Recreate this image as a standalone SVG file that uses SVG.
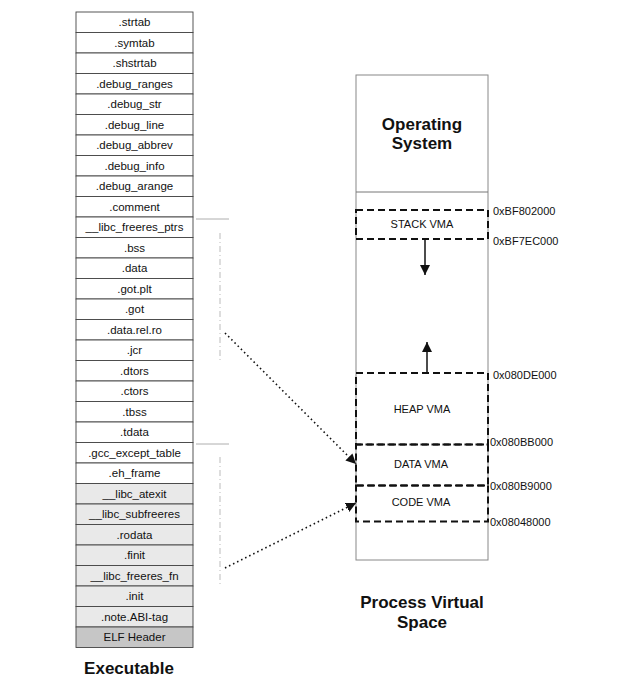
<svg xmlns="http://www.w3.org/2000/svg" width="623" height="683" viewBox="0 0 623 683">
<style>
.sec{fill:#fff;stroke:#444;stroke-width:0.9}
.shade{fill:#e9e9e9;stroke:#444;stroke-width:0.9}
.dark{fill:#c6c6c6;stroke:#444;stroke-width:0.9}
.st{font-family:"Liberation Sans",Arial,sans-serif;font-size:11.5px;fill:#111;text-anchor:middle}
.vma{fill:none;stroke:#111;stroke-width:2;stroke-dasharray:7,4}
.vt{font-family:"Liberation Sans",Arial,sans-serif;font-size:11px;fill:#111;text-anchor:middle}
.hex{font-family:"Liberation Sans",Arial,sans-serif;font-size:11px;fill:#111}
.big{font-family:"Liberation Sans",Arial,sans-serif;font-size:17px;font-weight:bold;fill:#111;text-anchor:middle}
.faint{stroke:#999;stroke-width:0.8;fill:none}
.faintd{stroke:#aaa;stroke-width:0.8;fill:none;stroke-dasharray:6,3,1,3}
.dot{stroke:#111;stroke-width:1.6;fill:none;stroke-dasharray:1.5,3}
.sol{stroke:#111;stroke-width:1.5;fill:none}
</style>
<defs>
<marker id="ah" viewBox="0 0 10 10" refX="10" refY="5" markerWidth="10" markerHeight="10" markerUnits="userSpaceOnUse" orient="auto">
<path d="M0,0 L10,5 L0,10 z" fill="#111"/>
</marker>
</defs>

<g id="executable">
<g id="sec-strtab"><rect class="sec" x="76" y="12" width="117" height="20.5"/><text class="st" x="134.5" y="26.2">.strtab</text></g>
<g id="sec-symtab"><rect class="sec" x="76" y="32.5" width="117" height="20.5"/><text class="st" x="134.5" y="46.7">.symtab</text></g>
<g id="sec-shstrtab"><rect class="sec" x="76" y="53" width="117" height="20.5"/><text class="st" x="134.5" y="67.2">.shstrtab</text></g>
<g id="sec-debug_ranges"><rect class="sec" x="76" y="73.5" width="117" height="20.5"/><text class="st" x="134.5" y="87.7">.debug_ranges</text></g>
<g id="sec-debug_str"><rect class="sec" x="76" y="94" width="117" height="20.5"/><text class="st" x="134.5" y="108.2">.debug_str</text></g>
<g id="sec-debug_line"><rect class="sec" x="76" y="114.5" width="117" height="20.5"/><text class="st" x="134.5" y="128.7">.debug_line</text></g>
<g id="sec-debug_abbrev"><rect class="sec" x="76" y="135" width="117" height="20.5"/><text class="st" x="134.5" y="149.2">.debug_abbrev</text></g>
<g id="sec-debug_info"><rect class="sec" x="76" y="155.5" width="117" height="20.5"/><text class="st" x="134.5" y="169.7">.debug_info</text></g>
<g id="sec-debug_arange"><rect class="sec" x="76" y="176" width="117" height="20.5"/><text class="st" x="134.5" y="190.2">.debug_arange</text></g>
<g id="sec-comment"><rect class="sec" x="76" y="196.5" width="117" height="20.5"/><text class="st" x="134.5" y="210.7">.comment</text></g>
<g id="sec-libc_freeres_ptrs"><rect class="sec" x="76" y="217" width="117" height="20.5"/><text class="st" x="134.5" y="231.2">__libc_freeres_ptrs</text></g>
<g id="sec-bss"><rect class="sec" x="76" y="237.5" width="117" height="20.5"/><text class="st" x="134.5" y="251.7">.bss</text></g>
<g id="sec-data"><rect class="sec" x="76" y="258" width="117" height="20.5"/><text class="st" x="134.5" y="272.2">.data</text></g>
<g id="sec-got_plt"><rect class="sec" x="76" y="278.5" width="117" height="20.5"/><text class="st" x="134.5" y="292.7">.got.plt</text></g>
<g id="sec-got"><rect class="sec" x="76" y="299" width="117" height="20.5"/><text class="st" x="134.5" y="313.2">.got</text></g>
<g id="sec-data_rel_ro"><rect class="sec" x="76" y="319.5" width="117" height="20.5"/><text class="st" x="134.5" y="333.7">.data.rel.ro</text></g>
<g id="sec-jcr"><rect class="sec" x="76" y="340" width="117" height="20.5"/><text class="st" x="134.5" y="354.2">.jcr</text></g>
<g id="sec-dtors"><rect class="sec" x="76" y="360.5" width="117" height="20.5"/><text class="st" x="134.5" y="374.7">.dtors</text></g>
<g id="sec-ctors"><rect class="sec" x="76" y="381" width="117" height="20.5"/><text class="st" x="134.5" y="395.2">.ctors</text></g>
<g id="sec-tbss"><rect class="sec" x="76" y="401.5" width="117" height="20.5"/><text class="st" x="134.5" y="415.7">.tbss</text></g>
<g id="sec-tdata"><rect class="sec" x="76" y="422" width="117" height="20.5"/><text class="st" x="134.5" y="436.2">.tdata</text></g>
<g id="sec-gcc_except_table"><rect class="sec" x="76" y="442.5" width="117" height="20.5"/><text class="st" x="134.5" y="456.7">.gcc_except_table</text></g>
<g id="sec-eh_frame"><rect class="sec" x="76" y="463" width="117" height="20.5"/><text class="st" x="134.5" y="477.2">.eh_frame</text></g>
<g id="sec-libc_atexit"><rect class="shade" x="76" y="483.5" width="117" height="20.5"/><text class="st" x="134.5" y="497.7">__libc_atexit</text></g>
<g id="sec-libc_subfreeres"><rect class="shade" x="76" y="504" width="117" height="20.5"/><text class="st" x="134.5" y="518.2">__libc_subfreeres</text></g>
<g id="sec-rodata"><rect class="shade" x="76" y="524.5" width="117" height="20.5"/><text class="st" x="134.5" y="538.7">.rodata</text></g>
<g id="sec-finit"><rect class="shade" x="76" y="545" width="117" height="20.5"/><text class="st" x="134.5" y="559.2">.finit</text></g>
<g id="sec-libc_freeres_fn"><rect class="shade" x="76" y="565.5" width="117" height="20.5"/><text class="st" x="134.5" y="579.7">__libc_freeres_fn</text></g>
<g id="sec-init"><rect class="shade" x="76" y="586" width="117" height="20.5"/><text class="st" x="134.5" y="600.2">.init</text></g>
<g id="sec-note_abi"><rect class="shade" x="76" y="606.5" width="117" height="20.5"/><text class="st" x="134.5" y="620.7">.note.ABI-tag</text></g>
<g id="sec-elf_header"><rect class="dark" x="76" y="627" width="117" height="20.5"/><text class="st" x="134.5" y="641.2">ELF Header</text></g>
<text id="label-executable" class="big" x="129" y="674">Executable</text>
</g>

<g id="segment-marks">
<line class="faint" x1="196" y1="219" x2="229" y2="219"/>
<line class="faintd" x1="220" y1="233" x2="220" y2="362"/>
<line class="faint" x1="196" y1="444" x2="229" y2="444"/>
<line class="faintd" x1="220" y1="457" x2="220" y2="587"/>
</g>

<g id="process-space">
<rect x="356" y="75" width="132" height="485" fill="#fff" stroke="#888" stroke-width="1"/>
<g id="os">
<line x1="356" y1="192" x2="488" y2="192" stroke="#777" stroke-width="1"/>
<text class="big" x="422" y="130">Operating</text>
<text class="big" x="422" y="149">System</text>
</g>
<g id="stack-vma">
<rect class="vma" x="356" y="210" width="132" height="29"/>
<text class="vt" x="422" y="228">STACK VMA</text>
</g>
<g id="heap-vma">
<rect class="vma" x="356" y="373" width="132" height="71.5"/>
<text class="vt" x="422" y="413">HEAP VMA</text>
</g>
<g id="data-vma">
<rect class="vma" x="356" y="444.5" width="132" height="41"/>
<text class="vt" x="421" y="468">DATA VMA</text>
</g>
<g id="code-vma">
<rect class="vma" x="356" y="485.5" width="132" height="36"/>
<text class="vt" x="421" y="506">CODE VMA</text>
</g>
<g id="addresses">
<text class="hex" x="493" y="215">0xBF802000</text>
<text class="hex" x="493" y="245">0xBF7EC000</text>
<text class="hex" x="493" y="379">0x080DE000</text>
<text class="hex" x="490" y="446">0x080BB000</text>
<text class="hex" x="490" y="490">0x080B9000</text>
<text class="hex" x="490" y="526">0x08048000</text>
</g>
<text id="label-process" class="big"><tspan x="422" y="608">Process Virtual</tspan><tspan x="422" y="628">Space</tspan></text>
</g>

<g id="connectors">
<line class="sol" x1="425" y1="239" x2="425" y2="275" marker-end="url(#ah)"/>
<line class="sol" x1="427" y1="372" x2="427" y2="342" marker-end="url(#ah)"/>
<line class="dot" x1="225" y1="333" x2="356" y2="464" marker-end="url(#ah)"/>
<line class="dot" x1="225" y1="568" x2="356" y2="503" marker-end="url(#ah)"/>
</g>
</svg>
